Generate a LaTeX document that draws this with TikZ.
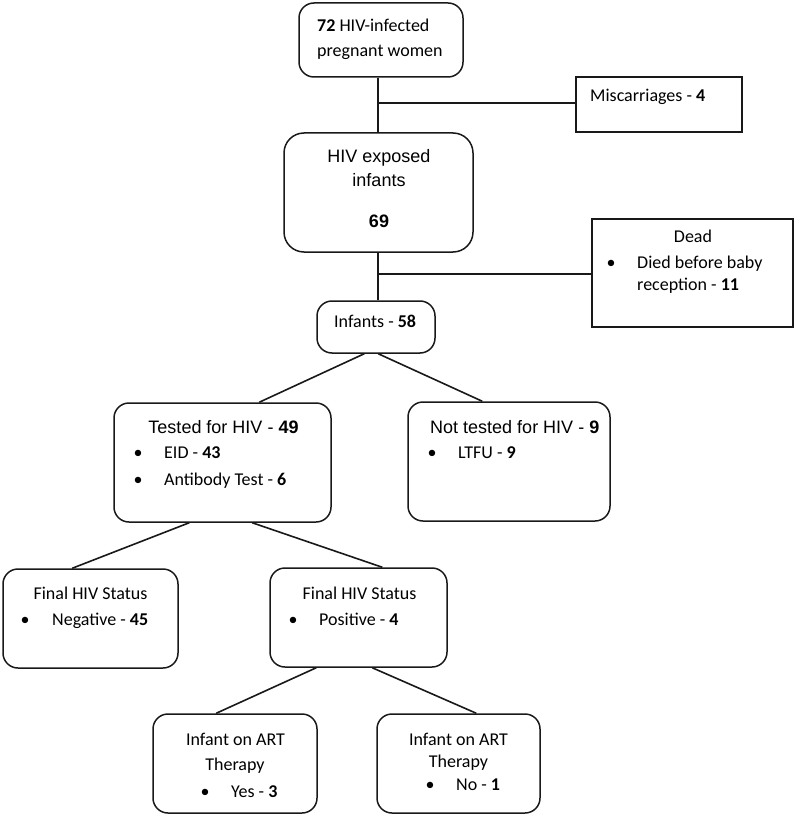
\documentclass[tikz,border=0pt]{standalone}
\usepackage{fontspec}
\setmainfont{Carlito}
\newfontfamily\arialf{Liberation Sans}
\usetikzlibrary{calc}
\begin{document}
\begin{tikzpicture}[x=1pt,y=-1pt,
  rbox/.style={draw=black!90, line width=1.5pt, rounded corners=15pt, inner sep=0pt},
  sbox/.style={draw=black!90, line width=1.5pt, inner sep=0pt},
  conn/.style={draw=black!90, line width=1.6pt},
  txt/.style={inner sep=0pt, anchor=base west, font=\fontsize{18}{22}\selectfont},
  ctxt/.style={inner sep=0pt, anchor=base, font=\fontsize{18}{22}\selectfont},
  atxt/.style={inner sep=0pt, anchor=base, font=\arialf\fontsize{18}{22}\selectfont},
  awtxt/.style={inner sep=0pt, anchor=base west, font=\arialf\fontsize{18}{22}\selectfont},
  bul/.style={inner sep=0pt, anchor=base, font=\fontsize{18}{22}\selectfont}]
\useasboundingbox (0,0) rectangle (797,818);

% boxes
\node[rbox, minimum width=164pt, minimum height=74pt] (b1) at (381,40) {};
\node[sbox, minimum width=166pt, minimum height=55pt] (misc) at (659,104.5) {};
\node[rbox, rounded corners=20pt, minimum width=189pt, minimum height=119pt] (b2) at (378.5,192.5) {};
\node[sbox, minimum width=201pt, minimum height=108pt] (dead) at (692.5,273) {};
\node[rbox, minimum width=118pt, minimum height=52pt] (inf) at (376,327) {};
\node[rbox, minimum width=217pt, minimum height=119pt] (tested) at (222.5,462.5) {};
\node[rbox, minimum width=202pt, minimum height=119pt] (nt) at (509,461.5) {};
\node[rbox, minimum width=175pt, minimum height=99pt] (fl) at (90.5,618.5) {};
\node[rbox, minimum width=177pt, minimum height=99pt] (fr) at (358.5,617.5) {};
\node[rbox, minimum width=164pt, minimum height=99pt] (yes) at (235,763.5) {};
\node[rbox, minimum width=163pt, minimum height=99pt] (no) at (458.5,763.5) {};

% texts
\node[txt] (t1a) at (317,32) {\textbf{72} HIV-infected};
\node[txt] (t1b) at (317,57) {pregnant women};
\node[txt] (tmisc) at (590,102) {Miscarriages - \textbf{4}};
\node[atxt] (t2a) at (379,163) {HIV exposed};
\node[atxt] (t2b) at (379,187) {infants};
\node[atxt] (t2c) at (379,227) {\textbf{69}};
\node[ctxt] (tdead) at (693,242) {Dead};
\node[bul] (bdead) at (611,268) {•};
\node[txt] (tdeada) at (637,268) {Died before baby};
\node[txt] (tdeadb) at (637,290) {reception - \textbf{11}};
\node[txt] (tinf) at (334,327) {Infants - \textbf{58}};
\node[atxt] (ttest) at (223.5,433) {Tested for HIV - \textbf{49}};
\node[bul] (btest1) at (138,458) {•};
\node[txt] (ttest1) at (164,458) {EID - \textbf{43}};
\node[bul] (btest2) at (138,485) {•};
\node[txt] (ttest2) at (164,485) {Antibody Test - \textbf{6}};
\node[awtxt] (tnt) at (430,433) {Not tested for HIV - \textbf{9}};
\node[bul] (bnt) at (432,458) {•};
\node[txt] (tnt1) at (458,458) {LTFU - \textbf{9}};
\node[ctxt] (tfl) at (90.5,599) {Final HIV Status};
\node[bul] (bfl) at (25,625) {•};
\node[txt] (tfl1) at (52,625) {Negative - \textbf{45}};
\node[ctxt] (tfr) at (359.5,599) {Final HIV Status};
\node[bul] (bfr) at (293,625) {•};
\node[txt] (tfr1) at (319,625) {Positive - \textbf{4}};
\node[ctxt] (tyesa) at (235.5,745) {Infant on ART};
\node[ctxt] (tyesb) at (235,770) {Therapy};
\node[bul] (byes) at (205,797) {•};
\node[txt] (tyes1) at (231,797) {Yes - \textbf{3}};
\node[ctxt] (tnoa) at (458.5,745) {Infant on ART};
\node[ctxt] (tnob) at (458.5,767) {Therapy};
\node[bul] (bno) at (430,790) {•};
\node[txt] (tno1) at (456,790) {No - \textbf{1}};

% connectors
\coordinate (j1) at (378,103);
\draw[conn] (b1.south -| j1) -- (b2.north -| j1);
\draw[conn] (j1) -- (misc.west |- j1);
\coordinate (j2) at (378,274);
\draw[conn] (b2.south -| j2) -- (inf.north -| j2);
\draw[conn] (j2) -- (dead.west |- j2);
\draw[conn] ($(inf.south west)+(48,0)$) -- ($(tested.north west)+(146,0)$);
\draw[conn] ($(inf.south west)+(62,0)$) -- ($(nt.north west)+(75,0)$);
\draw[conn] ($(tested.south west)+(76,0)$) -- ($(fl.north west)+(70,0)$);
\draw[conn] ($(tested.south west)+(139,0)$) -- ($(fr.north west)+(113,0)$);
\draw[conn] ($(fr.south west)+(47,0)$) -- ($(yes.north west)+(64,0)$);
\draw[conn] ($(fr.south west)+(103,0)$) -- ($(no.north west)+(100,0)$);
\end{tikzpicture}
\end{document}
